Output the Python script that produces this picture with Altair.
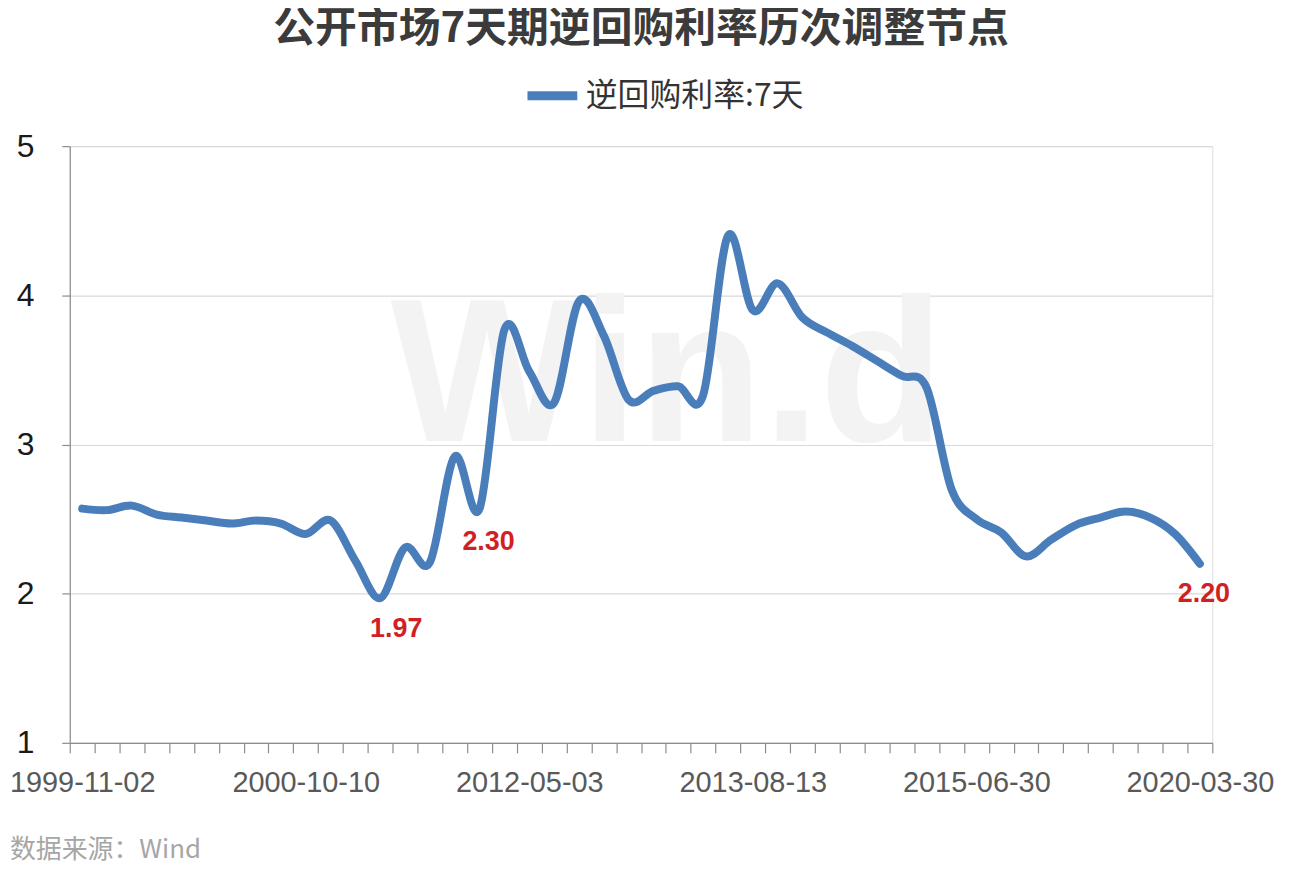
import altair as alt
import pandas as pd

# ---- data ----
dates = [
    "1999-11-02", "1999-12-07", "2000-01-11", "2000-02-22", "2000-03-28",
    "2000-05-09", "2000-06-13", "2000-07-18", "2000-08-29", "2000-10-10",
    "2001-12-11", "2002-12-10", "2003-12-09", "2004-12-14", "2005-12-13",
    "2006-12-12", "2008-12-09", "2010-12-14", "2012-05-03", "2012-06-12",
    "2012-07-17", "2012-08-21", "2012-09-25", "2012-10-30", "2012-12-04",
    "2013-01-15", "2013-02-26", "2013-08-13", "2013-09-17", "2013-10-22",
    "2013-11-26", "2014-01-14", "2014-02-25", "2014-04-01", "2014-05-13",
    "2014-06-24", "2015-06-30", "2015-08-25", "2015-10-27", "2016-02-16",
    "2016-08-30", "2017-02-03", "2017-12-14", "2018-03-22", "2019-11-18",
    "2020-03-30",
]
rates = [
    2.57, 2.56, 2.59, 2.53, 2.51, 2.49, 2.47, 2.49, 2.47, 2.40,
    2.49, 2.22, 1.97, 2.31, 2.21, 2.92, 2.57, 3.77, 3.49, 3.28,
    3.96, 3.73, 3.30, 3.36, 3.39, 3.33, 4.40, 3.90, 4.08, 3.85,
    3.75, 3.66, 3.56, 3.46, 3.38, 2.70, 2.50, 2.41, 2.25, 2.36,
    2.46, 2.51, 2.55, 2.51, 2.40, 2.20,
]
series_name = "逆回购利率:7天"
shown_labels = ["1999-11-02", "2000-10-10", "2012-05-03",
                "2013-08-13", "2015-06-30", "2020-03-30"]
note_texts = ["1.97", "2.30", "2.20"]
note_dates = ["2003-12-09", "2008-12-09", "2020-03-30"]

title_text = "公开市场7天期逆回购利率历次调整节点"
source_text = "数据来源：Wind"
watermark_text = "Win.d"

df = pd.DataFrame({"date": dates, "rate": rates, "series": series_name})

CJK = "Noto Sans CJK SC"
BLUE = "#4a7ebb"
RED = "#d11f24"

label_array = "[" + ",".join("'" + s + "'" for s in shown_labels) + "]"
x_scale = alt.Scale(type="band", domain=dates, paddingInner=0, paddingOuter=0)

x_enc = alt.X(
    "date:O", bandPosition=0.5, scale=x_scale,
    axis=alt.Axis(
        title=None, labelAngle=0, labelOverlap=False,
        labelExpr=f"indexof({label_array}, datum.value) >= 0 ? datum.value : ''",
        tickBand="extent", tickSize=10, tickColor="#8c8c8c", tickWidth=1.2,
        domainColor="#8c8c8c", domainWidth=1.2,
        labelFontSize=29, labelColor="#595959", labelPadding=16,
        labelFont="Liberation Sans", grid=False,
    ),
)
y_enc = alt.Y(
    "rate:Q",
    scale=alt.Scale(domain=[1, 5], nice=False, zero=False),
    axis=alt.Axis(
        title=None, values=[1, 2, 3, 4, 5], format="d",
        grid=True, gridColor="#d9d9d9", gridWidth=1.2,
        domainColor="#8c8c8c", domainWidth=1.2,
        tickColor="#8c8c8c", tickSize=8, tickWidth=1.2,
        labelFontSize=32, labelColor="#1a1a1a", labelPadding=28,
        labelFont="Liberation Sans",
    ),
)

watermark = alt.Chart(pd.DataFrame({"t": [watermark_text]})).mark_text(
    font="Liberation Sans", fontSize=205, fontWeight="bold",
    color="#f3f3f3", align="center", baseline="alphabetic",
).encode(text="t:N", x=alt.value(600), y=alt.value(296))

line = alt.Chart(df).mark_line(
    interpolate="cardinal", strokeWidth=8, strokeCap="round", strokeJoin="round",
).encode(
    x=x_enc, y=y_enc,
    color=alt.Color(
        "series:N", scale=alt.Scale(range=[BLUE]),
        legend=alt.Legend(
            title=None, orient="none", legendX=455, legendY=-80,
            symbolType="stroke", symbolSize=2500, symbolStrokeWidth=9,
            labelFontSize=32, labelFont=CJK, labelColor="#333333",
            labelOffset=4, padding=0, labelLimit=500,
        ),
    ),
)

offsets = [(16, 31), (9, 34), (4, 30)]
note_layers = []
for txt, d, (dx, dy) in zip(note_texts, note_dates, offsets):
    ndf = df[df["date"] == d].assign(note=txt)
    note_layers.append(
        alt.Chart(ndf).mark_text(
            font="Liberation Sans", fontSize=27, fontWeight="bold", color=RED,
            dx=dx, dy=dy, align="center", baseline="middle",
        ).encode(
            x=alt.X("date:O", bandPosition=0.5, scale=x_scale),
            y="rate:Q", text="note:N",
        )
    )

footer = alt.Chart(pd.DataFrame({"t": [source_text]})).mark_text(
    font=CJK, fontSize=26, color="#a6a6a6", align="left", baseline="middle",
).encode(text="t:N", x=alt.value(-60), y=alt.value(707))

chart = alt.layer(watermark, line, *note_layers, footer).properties(
    width=1147, height=599,
    title=alt.TitleParams(
        title_text, font=CJK, fontSize=42, fontWeight="bold",
        color="#3b3b3b", anchor="middle", frame="group", offset=16,
    ),
    autosize=alt.AutoSizeParams(type="none"),
    padding={"left": 62, "top": 137, "right": 80, "bottom": 128},
).configure_view(stroke=None).configure(background="white")

chart.save("out.html", embed_options={"renderer": "svg", "actions": False})
